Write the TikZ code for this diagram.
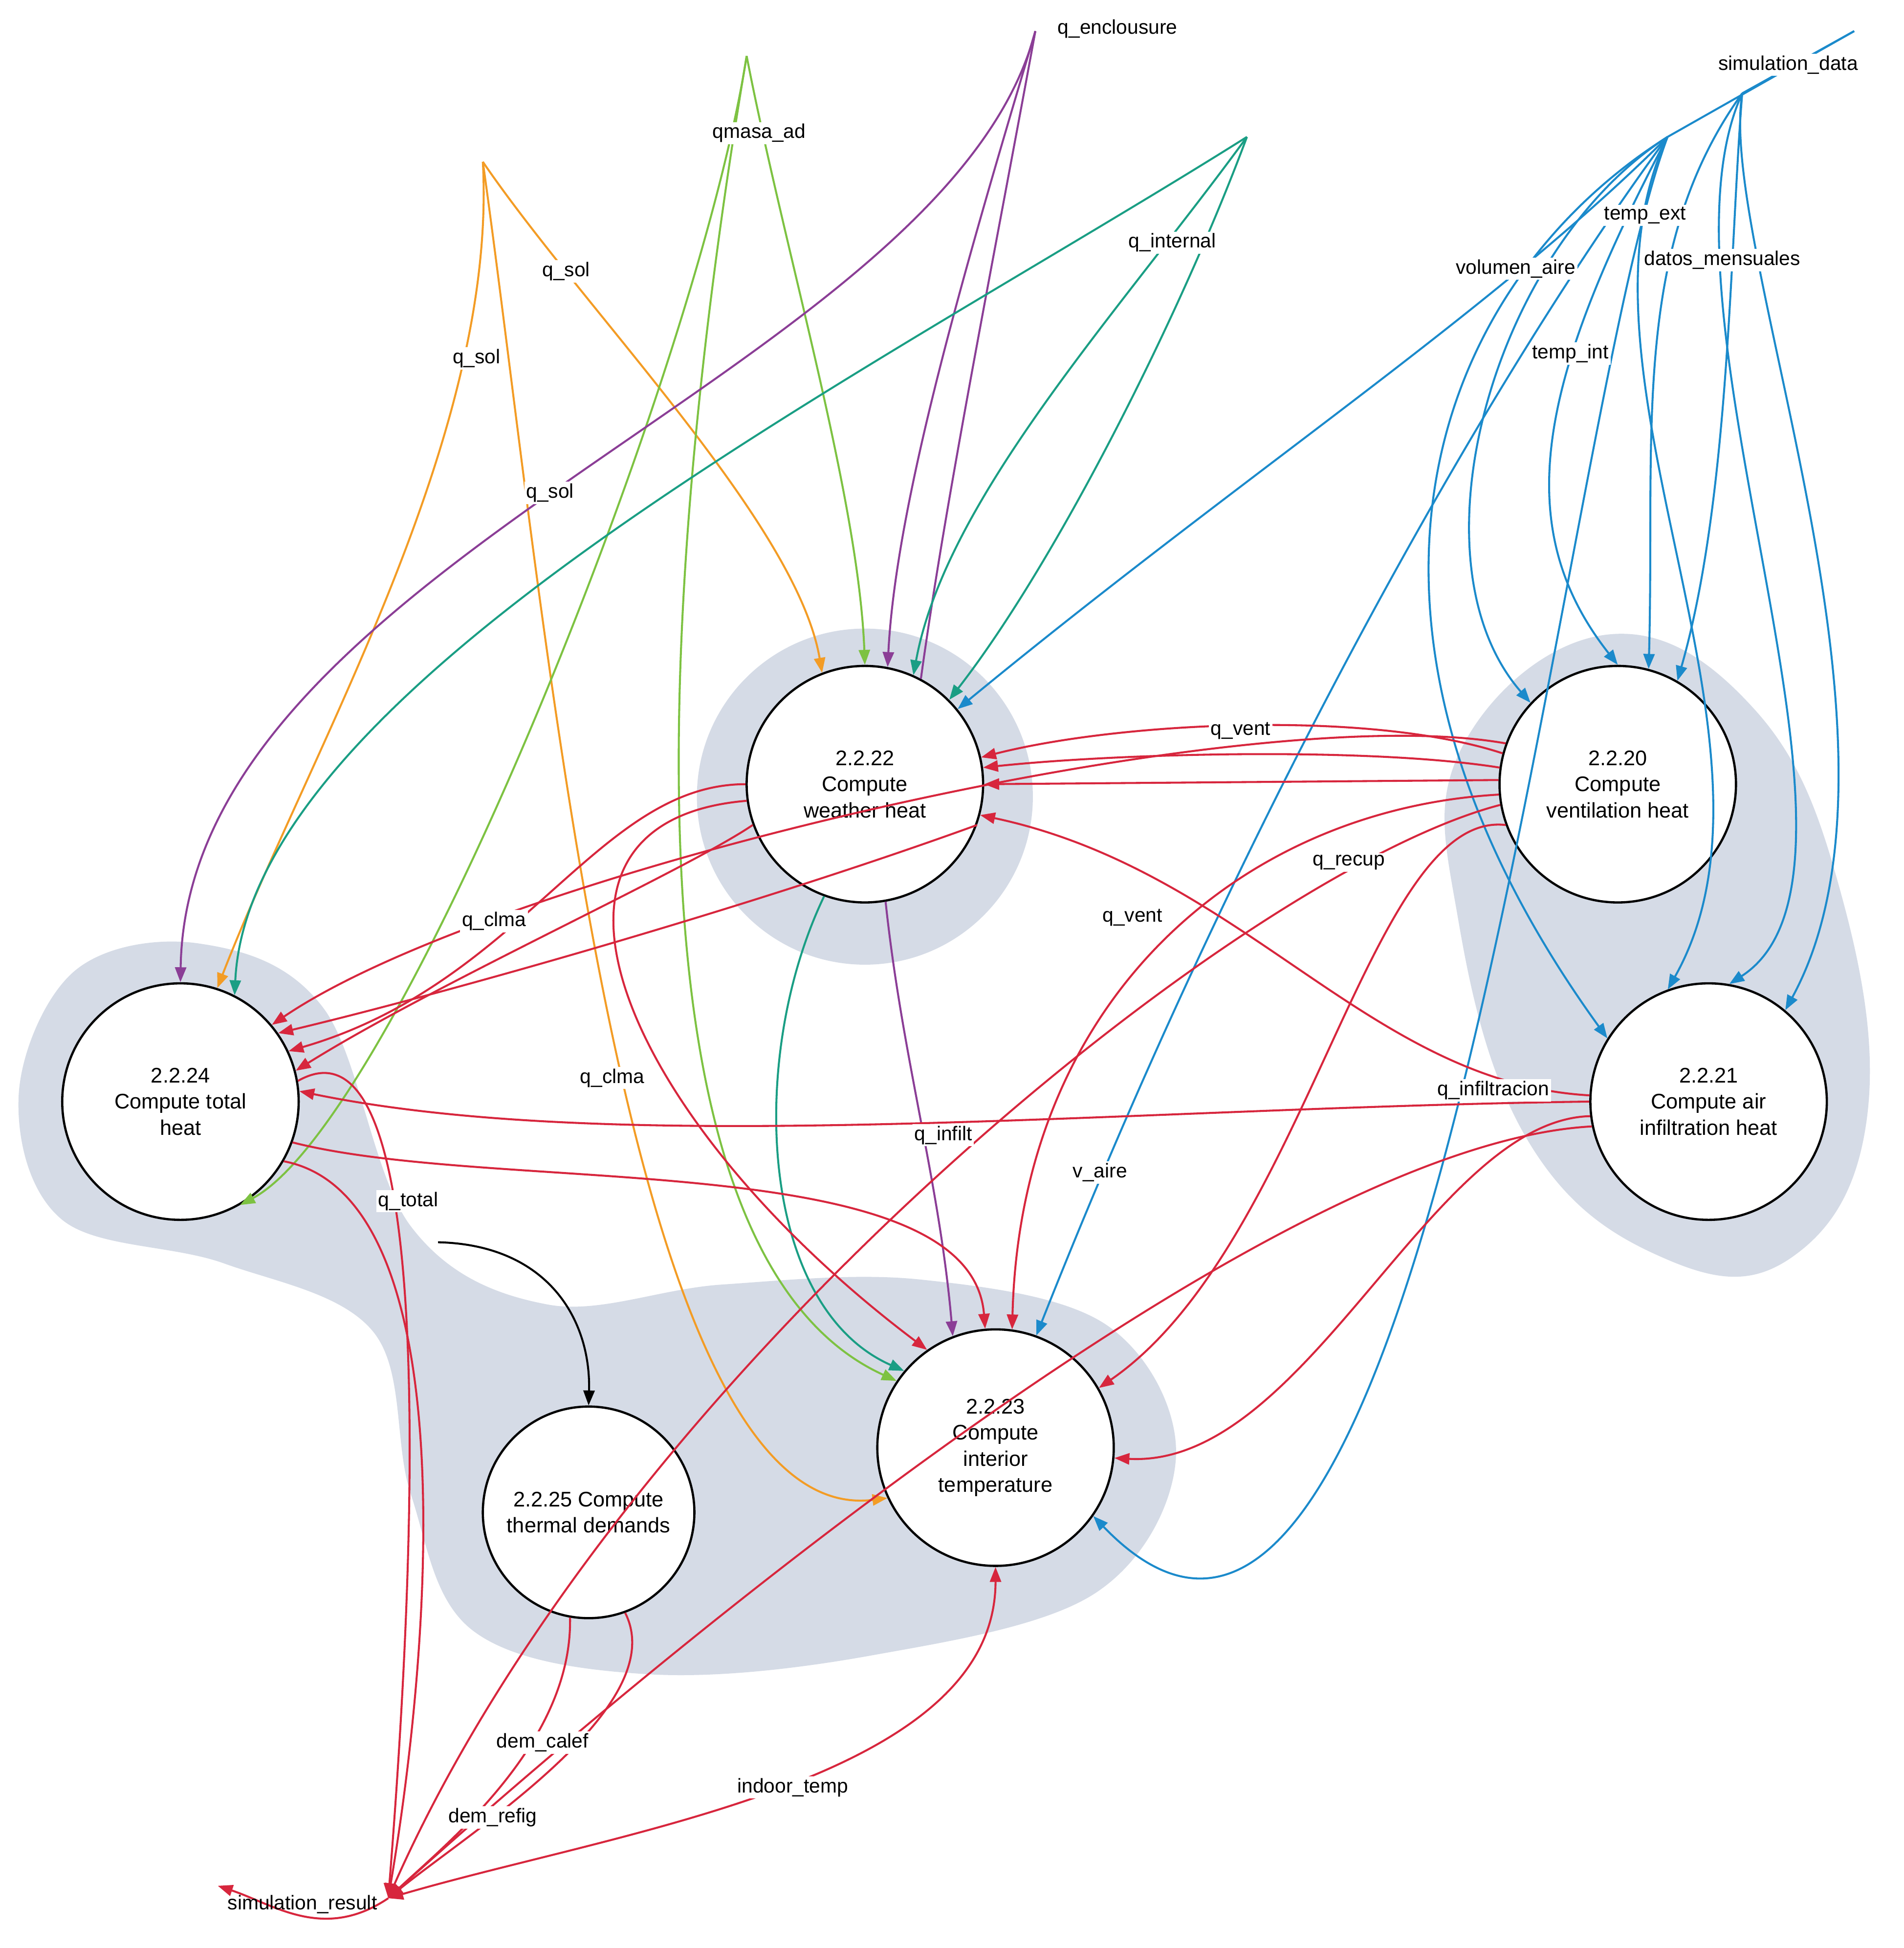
\documentclass[tikz,border=0pt]{standalone}
\usepackage{fontspec}
\setmainfont{Liberation Sans}
\usetikzlibrary{arrows.meta}
\definecolor{cor}{HTML}{F39C25}
\definecolor{cgr}{HTML}{7DC242}
\definecolor{cpu}{HTML}{8B3E96}
\definecolor{cte}{HTML}{1A9E84}
\definecolor{cbl}{HTML}{1B8ACB}
\definecolor{cre}{HTML}{D7263D}
\definecolor{cblob}{HTML}{D5DBE6}
\begin{document}
\begin{tikzpicture}[x=1pt,y=-1pt,
  proc/.style={circle,draw=black,line width=1.8pt,fill=white,minimum size=190pt,align=center,font=\fontsize{17}{21}\selectfont,inner sep=0pt},
  lbl/.style={fill=white,inner sep=1.5pt,font=\fontsize{16}{19}\selectfont},
  e/.style={line width=1.6pt,-{Triangle[length=12pt,width=9pt]}},
  ne/.style={line width=1.6pt}]
\useasboundingbox (0,0) rectangle (1530,1565);
% blobs
\fill[cblob] (695,640) circle (135);
\fill[cblob] plot[smooth cycle,tension=0.7] coordinates {(1175,600) (1290,510) (1410,570) (1480,720) (1500,900) (1440,1010) (1340,1012) (1230,920) (1172,740)};
\fill[cblob] plot[smooth cycle,tension=0.6] coordinates {(15,880) (60,780) (160,758) (260,810) (330,985) (440,1048) (580,1032) (740,1028) (890,1065) (945,1170) (880,1280) (700,1330) (520,1345) (380,1310) (330,1200) (300,1070) (180,1015) (50,980)};
% nodes
\node[proc] (n22) at (695,630) {2.2.22\\Compute\\weather heat};
\node[proc] (n20) at (1300,630) {2.2.20\\Compute\\ventilation heat};
\node[proc] (n21) at (1373,885) {2.2.21\\Compute air\\infiltration heat};
\node[proc] (n24) at (145,885) {2.2.24\\Compute total\\heat};
\node[proc,minimum size=170pt] (n25) at (473,1215) {2.2.25 Compute\\thermal demands};
\node[proc] (n23) at (800,1163) {2.2.23\\Compute\\interior\\temperature};
\coordinate (qenc) at (832,25);
\coordinate (simd) at (1490,25);
\coordinate (hubA) at (1340,110);
\coordinate (hubB) at (1400,75);
\coordinate (qmasa) at (600,45);
\coordinate (qint) at (1002,110);
\coordinate (qsol) at (388,130);
\coordinate (simres) at (312,1525);
\coordinate (simout) at (175,1515);
\coordinate (qt) at (352,998);
% orange
\draw[e,cor] (qsol) .. controls (470,250) and (640,420) .. (n22.111);
\draw[e,cor] (qsol) .. controls (400,350) and (250,600) .. (n24.72);
\draw[e,cor] (qsol) .. controls (440,500) and (500,1230) .. (n23.205);
% green
\draw[e,cgr] (qmasa) .. controls (630,200) and (690,400) .. (n22.90);
\draw[e,cgr] (qmasa) .. controls (560,300) and (320,900) .. (n24.-60);
\draw[e,cgr] (qmasa) .. controls (540,400) and (480,1000) .. (n23.146);
% purple
\draw[e,cpu] (qenc) .. controls (780,200) and (720,400) .. (n22.79);
\draw[e,cpu] (qenc) .. controls (760,300) and (150,450) .. (n24.90);
\draw[ne,cpu] (qenc) .. controls (800,200) and (760,400) .. (n22.62);
\draw[e,cpu] (n22.-80) .. controls (725,850) and (755,950) .. (n23.111);
% teal
\draw[e,cte] (qint) .. controls (700,300) and (200,550) .. (n24.63);
\draw[e,cte] (qint) .. controls (900,250) and (760,400) .. (n22.66);
\draw[e,cte] (qint) .. controls (950,250) and (850,450) .. (n22.45);
\draw[e,cte] (n22.-110) .. controls (600,850) and (610,1050) .. (n23.140);
% blue
\draw[ne,cbl] (simd) -- (hubA);
\draw[ne,cbl] (simd) -- (hubB);
\draw[e,cbl] (hubA) .. controls (1200,250) and (1000,380) .. (n22.39);
\draw[e,cbl] (hubA) .. controls (1200,200) and (1130,450) .. (n20.137);
\draw[e,cbl] (hubA) .. controls (1240,300) and (1210,420) .. (n20.90);
\draw[e,cbl] (hubB) .. controls (1310,200) and (1330,350) .. (n20.75);
\draw[e,cbl] (hubB) .. controls (1390,200) and (1390,400) .. (n20.60);
\draw[e,cbl] (hubA) .. controls (1150,230) and (1050,500) .. (n21.148);
\draw[e,cbl] (hubA) .. controls (1250,300) and (1450,600) .. (n21.110);
\draw[e,cbl] (hubB) .. controls (1320,250) and (1530,700) .. (n21.80);
\draw[e,cbl] (hubB) .. controls (1380,200) and (1550,600) .. (n21.50);
\draw[e,cbl] (hubA) .. controls (1200,300) and (1000,650) .. (n23.70);
\draw[e,cbl] (hubA) .. controls (1250,350) and (1150,1500) .. (n23.-35);
% red
\draw[e,cre] (n20.165) .. controls (1100,570) and (900,580) .. (n22.13);
\draw[e,cre] (n20.172) .. controls (1100,600) and (900,605) .. (n22.8);
\draw[e,cre] (n20.178) -- (n22.0);
\draw[e,cre] (n20.160) .. controls (1000,560) and (400,700) .. (n24.40);
\draw[e,cre] (n20.185) .. controls (1000,650) and (820,800) .. (n23.82);
\draw[e,cre] (n20.200) .. controls (1100,650) and (1050,1000) .. (n23.30);
\draw[e,cre] (n20.190) .. controls (1000,700) and (500,1100) .. (simres);
\draw[e,cre] (n21.180) .. controls (900,890) and (500,930) .. (n24.5);
\draw[e,cre] (n21.177) .. controls (1100,870) and (1000,700) .. (n22.-15);
\draw[e,cre] (n21.187) .. controls (1150,900) and (1050,1180) .. (n23.-5);
\draw[e,cre] (n21.192) .. controls (1000,920) and (450,1400) .. (simres);
\draw[e,cre] (n22.180) .. controls (480,630) and (420,790) .. (n24.25);
\draw[e,cre] (n22.200) .. controls (550,700) and (350,790) .. (n24.15);
\draw[e,cre] (n22.-20) .. controls (600,730) and (350,800) .. (n24.35);
\draw[e,cre] (n22.188) .. controls (400,660) and (500,900) .. (n23.125);
\draw[e,cre] (n24.-20) .. controls (400,960) and (780,920) .. (n23.95);
\draw[e,cre] (n24.-30) .. controls (370,960) and (350,1300) .. (simres);
\draw[e,cre] (n24.10) .. controls (360,800) and (330,1300) .. (simres);
\draw[e,cre] (n25.-100) .. controls (460,1400) and (360,1480) .. (simres);
\draw[e,cre] (n25.-70) .. controls (540,1370) and (380,1470) .. (simres);
\draw[cre,line width=1.6pt,{Triangle[length=12pt,width=9pt]}-{Triangle[length=12pt,width=9pt]}] (simres) .. controls (500,1470) and (800,1430) .. (n23.-90);
\draw[e,cre] (simres) .. controls (260,1560) and (220,1530) .. (simout);
% black
\draw[e,black] (qt) .. controls (440,1000) and (475,1060) .. (n25.90);
% labels
\node[lbl] at (898,23) {q\_enclousure};
\node[lbl] at (1437,52) {simulation\_data};
\node[lbl] at (610,107) {qmasa\_ad};
\node[lbl] at (942,195) {q\_internal};
\node[lbl] at (455,218) {q\_sol};
\node[lbl] at (383,288) {q\_sol};
\node[lbl] at (442,396) {q\_sol};
\node[lbl] at (1322,173) {temp\_ext};
\node[lbl] at (1218,216) {volumen\_aire};
\node[lbl] at (1384,209) {datos\_mensuales};
\node[lbl] at (1262,284) {temp\_int};
\node[lbl] at (997,587) {q\_vent};
\node[lbl] at (1084,693) {q\_recup};
\node[lbl] at (910,737) {q\_vent};
\node[lbl] at (397,740) {q\_clma};
\node[lbl] at (492,866) {q\_clma};
\node[lbl] at (758,912) {q\_infilt};
\node[lbl] at (1200,876) {q\_infiltracion};
\node[lbl] at (884,942) {v\_aire};
\node[lbl] at (328,965) {q\_total};
\node[lbl] at (436,1400) {dem\_calef};
\node[lbl] at (396,1460) {dem\_refig};
\node[lbl] at (637,1436) {indoor\_temp};
\node[lbl,fill=none] at (243,1530) {simulation\_result};
\end{tikzpicture}
\end{document}
